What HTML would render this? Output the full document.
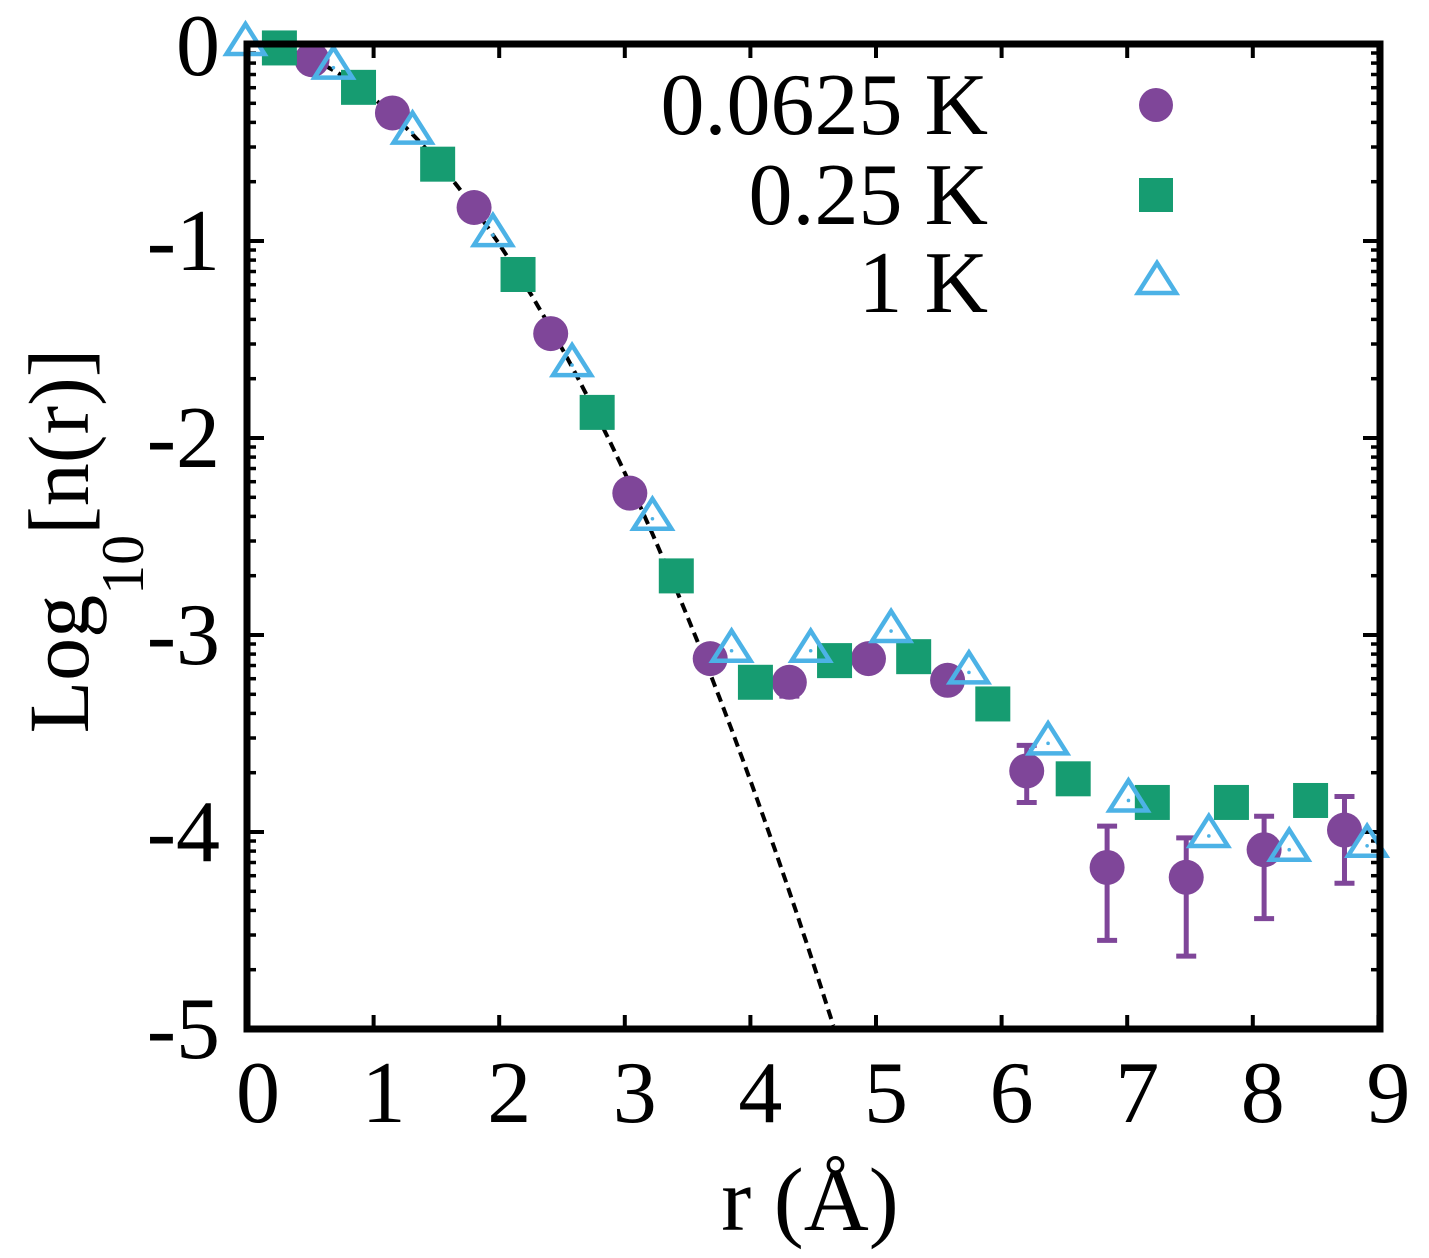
<!DOCTYPE html>
<html><head><meta charset="utf-8"><style>
html,body{margin:0;padding:0;background:#fff}
svg{display:block}
text{font-family:"Liberation Serif",serif;fill:#000}
</style></head><body>
<svg id="chart" width="1429" height="1258" viewBox="0 0 1429 1258" xmlns="http://www.w3.org/2000/svg">
<g id="minor"></g>
<g id="major"></g>
<g id="xlabels"></g>
<g id="ylabels"></g>
<path id="fit" fill="none" stroke="#000" stroke-width="4" stroke-dasharray="10,6"/>
<g id="errs"></g>
<g id="s1"></g>
<g id="s2"></g>
<g id="s3"></g>
<rect x="247" y="44" width="1133" height="985" fill="none" stroke="#000" stroke-width="7"/>
<text x="810" y="1230" font-size="90" text-anchor="middle">r (Å)</text>
<text transform="translate(88,541) rotate(-90)" font-size="86" text-anchor="middle">Log<tspan font-size="60" dy="55">10</tspan><tspan dy="-55">[n(r)]</tspan></text>
<g>
<text x="988" y="134" font-size="88" text-anchor="end">0.0625 K</text>
<text x="988" y="224" font-size="88" text-anchor="end">0.25 K</text>
<text x="988" y="312" font-size="88" text-anchor="end">1 K</text>
<circle cx="1156" cy="105" r="17" fill="#7f4699"/>
<rect x="1139" y="178" width="34" height="34" fill="#169c71"/>
<polygon points="1157,263 1176,293 1138,293" fill="none" stroke="#4cb2e6" stroke-width="4.5"/>
</g>
</svg>
<script>
const xTicks=[0,1,2,3,4,5,6,7,8,9];
const yTicks=[0,-1,-2,-3,-4,-5];
const x1=[0.51,1.15,1.80,2.41,3.04,3.68,4.31,4.94,5.57,6.20,6.84,7.47,8.09,8.73];
const y1=[-0.08,-0.35,-0.83,-1.47,-2.28,-3.12,-3.24,-3.12,-3.23,-3.69,-4.18,-4.23,-4.09,-3.99];
const e1lo=[-0.08,-0.35,-0.83,-1.47,-2.28,-3.12,-3.31,-3.17,-3.28,-3.85,-4.55,-4.63,-4.44,-4.26];
const e1hi=[-0.08,-0.35,-0.83,-1.47,-2.28,-3.12,-3.18,-3.07,-3.18,-3.56,-3.97,-4.03,-3.92,-3.82];
const x2=[0.25,0.88,1.51,2.15,2.78,3.41,4.04,4.67,5.30,5.93,6.57,7.20,7.83,8.46];
const y2=[-0.02,-0.22,-0.61,-1.17,-1.87,-2.70,-3.24,-3.13,-3.11,-3.35,-3.73,-3.85,-3.85,-3.84];
const x3=[-0.02,0.68,1.31,1.95,2.58,3.22,3.85,4.48,5.12,5.74,6.37,7.01,7.65,8.29,8.91];
const y3=[0.0,-0.12,-0.45,-0.97,-1.63,-2.41,-3.08,-3.08,-2.98,-3.19,-3.55,-3.84,-4.02,-4.09,-4.07];
const fitA=0.276, fitB=1.88;
const NS="http://www.w3.org/2000/svg";
const X=v=>248+125.6*v, Y=v=>44-197*v;
function mk(tag,parent,attrs){const e=document.createElementNS(NS,tag);for(const k in attrs)e.setAttribute(k,attrs[k]);parent.appendChild(e);return e;}
const major=document.getElementById('major'),minor=document.getElementById('minor');
xTicks.forEach(t=>{
  const a=mk('line',major,{x1:X(t),x2:X(t),y1:1029,y2:1015,stroke:'#000','stroke-width':4});
  
  
  const b=mk('line',major,{x1:X(t),x2:X(t),y1:44,y2:58,stroke:'#000','stroke-width':4});
  
  
  const tx=mk('text',document.getElementById('xlabels'),{x:X(t)+10,y:1122,'font-size':88,'text-anchor':'middle'});
  tx.textContent=t;
  
  
});
yTicks.forEach(t=>{
  const a=mk('line',major,{x1:247,x2:264,y1:Y(t),y2:Y(t),stroke:'#000','stroke-width':4});
  
  
  const b=mk('line',major,{x1:1380,x2:1363,y1:Y(t),y2:Y(t),stroke:'#000','stroke-width':4});
  
  
  const tx=mk('text',document.getElementById('ylabels'),{x:220,y:Y(t)+(t===0?31:29),'font-size':88,'text-anchor':'end'});
  tx.textContent=t===0?'0':'-'+Math.abs(t);
  
  
  if(t>-5){for(let k=2;k<=9;k++){const v=t-1+Math.log10(k);
    const m=mk('line',minor,{x1:247,x2:256,y1:Y(v),y2:Y(v),stroke:'#000','stroke-width':3.5});
    
    
    const m2=mk('line',minor,{x1:1380,x2:1371,y1:Y(v),y2:Y(v),stroke:'#000','stroke-width':3.5});
    
    }}
});
let d='';for(let i=0;i<=200;i++){const r=i/200*4.66;const v=-fitA*Math.pow(r,fitB);d+=(i?'L':'M')+X(r).toFixed(1)+','+Y(v).toFixed(1);}
document.getElementById('fit').setAttribute('d',d);
const errs=document.getElementById('errs');
x1.forEach((v,i)=>{if(e1hi[i]-e1lo[i]<0.05)return;
  const g=mk('path',errs,{d:`M${X(v)},${Y(e1hi[i])}V${Y(e1lo[i])}M${X(v)-10},${Y(e1hi[i])}h20M${X(v)-10},${Y(e1lo[i])}h20`,stroke:'#7f4699','stroke-width':5,fill:'none'});
  
  
});
x1.forEach((v,i)=>{const c=mk('circle',document.getElementById('s1'),{cx:X(v),cy:Y(y1[i]),r:17.5,fill:'#7f4699'});
  
  });
x2.forEach((v,i)=>{const c=mk('rect',document.getElementById('s2'),{x:X(v)-17.5,y:Y(y2[i])-17.5,width:35,height:35,fill:'#169c71'});
  
  });
x3.forEach((v,i)=>{const cx=X(v),cy=Y(y3[i]);
  const c=mk('polygon',document.getElementById('s3'),{points:`${cx},${cy-20} ${cx+19},${cy+10} ${cx-19},${cy+10}`,fill:'none',stroke:'#4cb2e6','stroke-width':4.5});
  
  
  const dt=mk('circle',document.getElementById('s3'),{cx:cx,cy:cy,r:1.8,fill:'#4cb2e6'});
  
  });
</script>
</body></html>
